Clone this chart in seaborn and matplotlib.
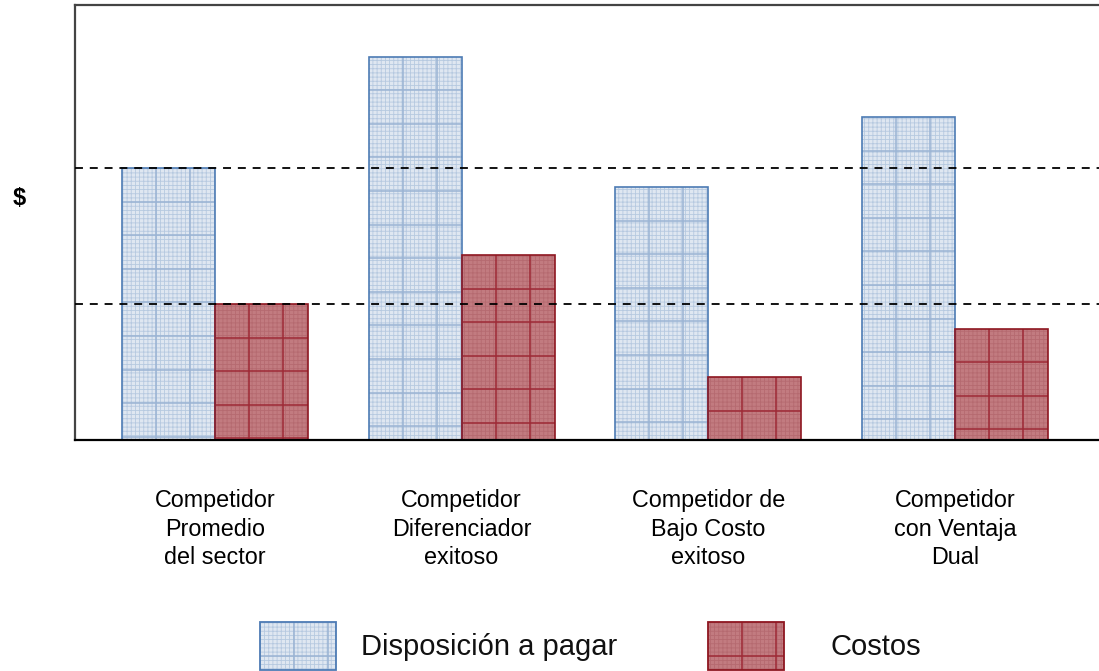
import matplotlib
matplotlib.use('Agg')
import matplotlib.pyplot as plt
import seaborn as sns
import numpy as np
import pandas as pd
from matplotlib.patches import Rectangle, Patch
from matplotlib.collections import LineCollection
from matplotlib.legend_handler import HandlerBase

# data
categories = [
    "Competidor\nPromedio\ndel sector",
    "Competidor\nDiferenciador\nexitoso",
    "Competidor de\nBajo Costo\nexitoso",
    "Competidor\ncon Ventaja\nDual",
]
series = ["Disposición a pagar", "Costos"]
willingness = [2.0, 2.82, 1.86, 2.375]
costs = [1.0, 1.36, 0.46, 0.82]
ref_levels = [1, 2]

# look of each series: fill, fine hatch, coarse grid, edge
styles = {
    "Disposición a pagar": dict(face="#dfe7f1", fine="#b6c9e0", coarse="#9bb4d4", edge="#4d7bb4"),
    "Costos": dict(face="#c27b80", fine="#b56a70", coarse="#9e2a36", edge="#8e1620"),
}

sns.set_style("white")
plt.rcParams['font.family'] = ['Liberation Sans', 'DejaVu Sans']
plt.rcParams['hatch.linewidth'] = 0.6

df = pd.DataFrame({
    "categoria": categories * 2,
    "serie": [series[0]] * 4 + [series[1]] * 4,
    "valor": willingness + costs,
})

fig = plt.figure(figsize=(10.99, 6.71), dpi=100)
ax = fig.add_axes([75 / 1099, 1 - 440 / 671, 1 - 75 / 1099, 435 / 671])

sns.barplot(data=df, x="categoria", y="valor", hue="serie", hue_order=series,
            palette=[styles[s]["face"] for s in series], width=0.754,
            saturation=1, legend=False, ax=ax, zorder=2)

ax.set_xlim(-0.567, 3.584)
ax.set_ylim(0, 3.2)

# grid cells ~34 px in display space
step_x = 34 / 246.7
step_y = 33.6 / 136


def grid_segments(x0, y0, w, h, sx, sy):
    segs = []
    x = x0 + sx
    while x < x0 + w - 1e-6:
        segs.append([(x, y0), (x, y0 + h)])
        x += sx
    y = y0 + h - sy
    while y > y0 + 1e-6:
        segs.append([(x0, y), (x0 + w, y)])
        y -= sy
    return segs


def decorate(ax, x0, y0, w, h, st, sx, sy, z):
    ax.add_patch(Rectangle((x0, y0), w, h, facecolor="none", edgecolor=st["fine"],
                           lw=0, hatch="++++", zorder=z + 0.1))
    ax.add_collection(LineCollection(grid_segments(x0, y0, w, h, sx, sy), colors=st["coarse"],
                                     linewidths=1.1, zorder=z + 0.2))
    ax.add_patch(Rectangle((x0, y0), w, h, facecolor="none", edgecolor=st["edge"],
                           lw=1.2, zorder=z + 0.3))


for name, container in zip(series, ax.containers):
    st = styles[name]
    for bar in container:
        bar.set_edgecolor("none")
        bar.set_linewidth(0)
        decorate(ax, bar.get_x(), bar.get_y(), bar.get_width(), bar.get_height(),
                 st, step_x, step_y, 2)

for lvl in ref_levels:
    ax.axhline(lvl, color="black", lw=1.3, ls=(0, (4.4, 3.8)), zorder=4)

# frame
for side in ["left", "top"]:
    ax.spines[side].set_color("#444444")
    ax.spines[side].set_linewidth(1.6)
ax.spines["bottom"].set_color("black")
ax.spines["bottom"].set_linewidth(1.6)
ax.spines["right"].set_visible(False)

ax.set_yticks([])
ax.tick_params(axis="x", length=0, pad=35, labelsize=16.8, labelcolor="black")
for lab in ax.get_xticklabels():
    lab.set_linespacing(1.33)
ax.set_xlabel("")
ax.set_ylabel(r"\$", rotation=0, fontsize=17, fontweight="bold", color="black",
              ha="center", va="center")
ax.yaxis.set_label_coords(-0.054, 0.556)


class GridHandler(HandlerBase):
    def __init__(self, st):
        super().__init__()
        self.st = st

    def create_artists(self, legend, orig_handle, xdescent, ydescent, width, height,
                       fontsize, trans):
        x0, y0 = -xdescent, -ydescent
        st = self.st
        face = Rectangle((x0, y0), width, height, facecolor=st["face"], edgecolor="none",
                         lw=0, transform=trans)
        fine = Rectangle((x0, y0), width, height, facecolor="none", edgecolor=st["fine"],
                         lw=0, hatch="++++", transform=trans)
        sx = 34 * 0.72
        lc = LineCollection(grid_segments(x0, y0, width, height, sx, sx),
                            colors=st["coarse"], linewidths=1.1, transform=trans)
        edge = Rectangle((x0, y0), width, height, facecolor="none", edgecolor=st["edge"],
                         lw=1.3, transform=trans)
        return [face, fine, lc, edge]


legend_pos = [(260 / 1099, 1.0), (708 / 1099, 1.0)]
legend_pads = [0.85, 1.6]
for name, pos, pad in zip(series, legend_pos, legend_pads):
    h = Patch(label=name)
    leg = fig.legend(handles=[h], labels=[name], loc="lower left",
                     bbox_to_anchor=(pos[0], pos[1] / 671), frameon=False,
                     fontsize=21, borderpad=0, borderaxespad=0,
                     handlelength=2.6, handleheight=2.16, handletextpad=pad,
                     handler_map={h: GridHandler(styles[name])})
    for t in leg.get_texts():
        t.set_color("#111111")

fig.savefig("out.png", dpi=100)
plt.close(fig)
